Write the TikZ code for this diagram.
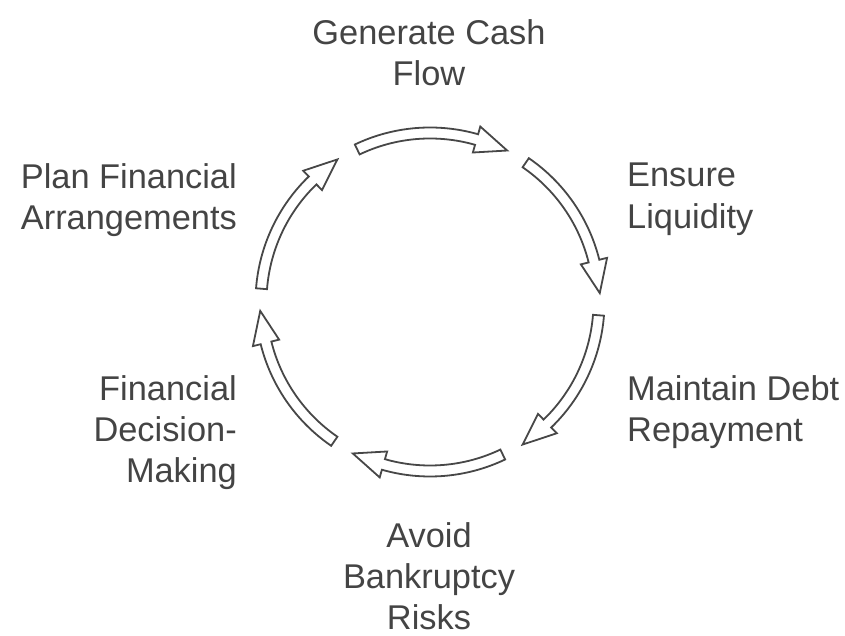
\documentclass[tikz,border=0pt]{standalone}
\usepackage{fontspec}
\setmainfont{Liberation Sans}
\definecolor{labelgray}{HTML}{444444}
\definecolor{arrowgray}{HTML}{474747}
\begin{document}
\begin{tikzpicture}[x=1bp,y=1bp,
  cyclearrow/.style={draw=arrowgray, fill=white, line width=1.8bp, line join=miter},
  cyclelabel/.style={text=labelgray, font=\fontsize{34.5}{41.5}\selectfont, inner sep=0pt}]
\useasboundingbox (0,0) rectangle (845,636);
\coordinate (C) at (430,334);
% six curved hollow arrows running clockwise round the cycle
\begin{scope}[shift={(C)}]
\foreach \c in {90,30,-30,-90,-150,150}{
  \pgfmathsetmacro\ta{\c+25.5}
  \pgfmathsetmacro\hb{\c-16}
  \pgfmathsetmacro\tp{\c-27}
  \draw[cyclearrow] (\ta:174.5) arc[start angle=\ta, end angle=\hb, radius=174.5]
    -- (\hb:182.5) -- (\tp:170) -- (\hb:155.5) -- (\hb:163.5)
    arc[start angle=\hb, end angle=\ta, radius=163.5] -- cycle;
}
\end{scope}
% stage labels
\node[cyclelabel, anchor=north, align=center] (gen) at (429,617) {Generate Cash\\Flow};
\node[cyclelabel, anchor=north west, align=left] (liq) at (627,473) {Ensure\\Liquidity};
\node[cyclelabel, anchor=north west, align=left] (debt) at (627,261) {Maintain Debt\\Repayment};
\node[cyclelabel, anchor=north, align=center] (bank) at (429,114) {Avoid\\Bankruptcy\\Risks};
\node[cyclelabel, anchor=north east, align=right] (dec) at (237,261) {Financial\\Decision-\\Making};
\node[cyclelabel, anchor=north east, align=right] (plan) at (237,473) {Plan Financial\\Arrangements};
\end{tikzpicture}
\end{document}
